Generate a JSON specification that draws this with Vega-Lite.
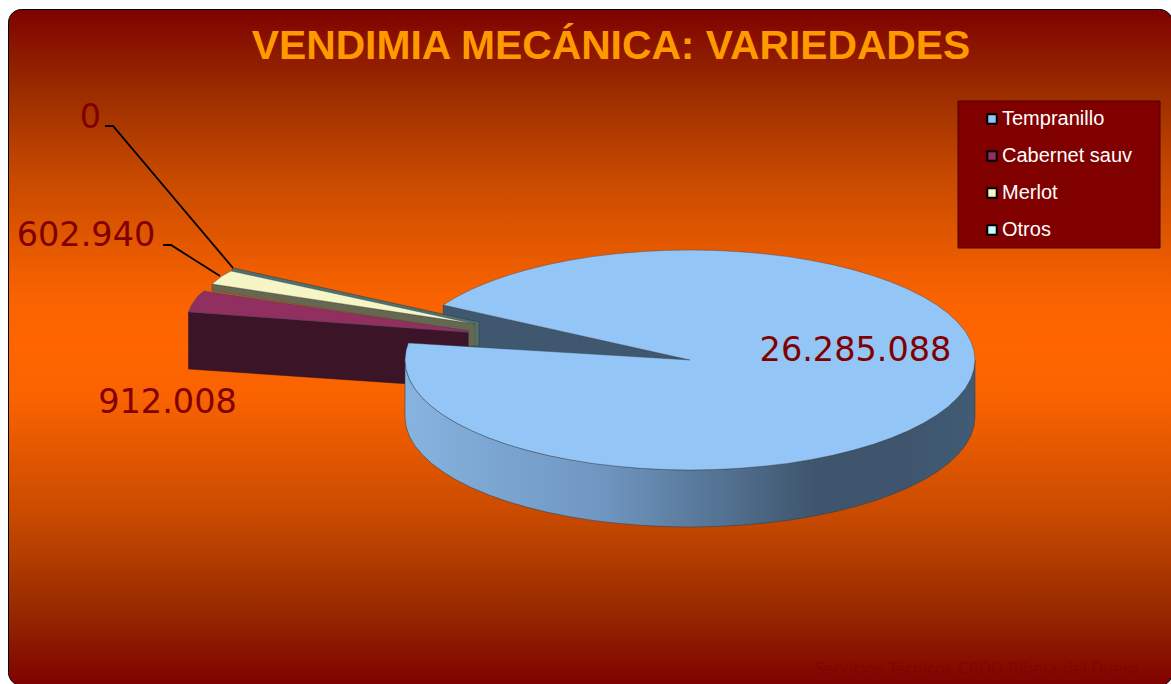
{
"$schema":"https://vega.github.io/schema/vega-lite/v6.json",
"width":1164,"height":676,
"padding":{"left":8,"top":9,"right":-1,"bottom":-1},
"autosize":{"type":"none"},
"background":"white",
"title":{"text":"VENDIMIA MECÁNICA: VARIEDADES","font":"Liberation Sans","fontWeight":"bold","fontSize":40.8,"color":"#FF9900","anchor":"middle","dx":21,"offset":-59},
"view":{"cornerRadius":13,"stroke":"#000000","strokeWidth":1,"fill":{"gradient":"linear","x1":0,"y1":0,"x2":0,"y2":1,"stops":[{"offset":0,"color":"#7E0200"},{"offset":0.12,"color":"#9A2C00"},{"offset":0.25,"color":"#C84A00"},{"offset":0.42,"color":"#F86200"},{"offset":0.5,"color":"#FF6600"},{"offset":0.58,"color":"#F86200"},{"offset":0.75,"color":"#C84A00"},{"offset":0.88,"color":"#9A2C00"},{"offset":1,"color":"#7E0200"}]}},
"datasets":{
"faces":[
{"face":"wall","i":1,"x":443.2,"y":305},{"face":"wall","i":2,"x":690,"y":360},{"face":"wall","i":3,"x":690,"y":417},{"face":"wall","i":4,"x":443.2,"y":362},{"face":"wall","i":5,"x":443.2,"y":305},
{"face":"cabernet","i":1,"x":188.5,"y":312},{"face":"cabernet","i":2,"x":469,"y":332},{"face":"cabernet","i":3,"x":469,"y":388},{"face":"cabernet","i":4,"x":188.5,"y":369},{"face":"cabernet","i":5,"x":188.5,"y":312},
{"face":"otros","i":1,"x":233,"y":268},{"face":"otros","i":2,"x":479,"y":322},{"face":"otros","i":3,"x":479,"y":346},{"face":"otros","i":4,"x":470,"y":346},{"face":"otros","i":5,"x":470,"y":330},{"face":"otros","i":6,"x":231,"y":272},{"face":"otros","i":7,"x":233,"y":268},
{"face":"merlot","i":1,"x":212,"y":284},{"face":"merlot","i":2,"x":475,"y":324},{"face":"merlot","i":3,"x":475,"y":346},{"face":"merlot","i":4,"x":468.5,"y":346},{"face":"merlot","i":5,"x":468.5,"y":331},{"face":"merlot","i":6,"x":212,"y":291},{"face":"merlot","i":7,"x":212,"y":284}
],
"sideEdge":[
{"x":405,"y":360,"y2":417},{"x":406.1,"y":369.6,"y2":426.6},{"x":409.3,"y":379.1,"y2":436.1},{"x":414.7,"y":388.5,"y2":445.5},{"x":422.2,"y":397.6,"y2":454.6},{"x":431.7,"y":406.5,"y2":463.5},{"x":443.2,"y":415,"y2":472},{"x":456.5,"y":423.1,"y2":480.1},{"x":471.7,"y":430.7,"y2":487.7},{"x":488.5,"y":437.8,"y2":494.8},{"x":506.8,"y":444.3,"y2":501.3},{"x":526.5,"y":450.1,"y2":507.1},{"x":547.5,"y":455.3,"y2":512.3},{"x":569.6,"y":459.7,"y2":516.7},{"x":592.5,"y":463.4,"y2":520.4},{"x":616.2,"y":466.2,"y2":523.2},{"x":640.5,"y":468.3,"y2":525.3},{"x":665.2,"y":469.6,"y2":526.6},{"x":690,"y":470,"y2":527},{"x":714.8,"y":469.6,"y2":526.6},{"x":739.5,"y":468.3,"y2":525.3},{"x":763.8,"y":466.2,"y2":523.2},{"x":787.5,"y":463.4,"y2":520.4},{"x":810.4,"y":459.7,"y2":516.7},{"x":832.5,"y":455.3,"y2":512.3},{"x":853.5,"y":450.1,"y2":507.1},{"x":873.2,"y":444.3,"y2":501.3},{"x":891.5,"y":437.8,"y2":494.8},{"x":908.3,"y":430.7,"y2":487.7},{"x":923.5,"y":423.1,"y2":480.1},{"x":936.8,"y":415,"y2":472},{"x":948.3,"y":406.5,"y2":463.5},{"x":957.8,"y":397.6,"y2":454.6},{"x":965.3,"y":388.5,"y2":445.5},{"x":970.7,"y":379.1,"y2":436.1},{"x":973.9,"y":369.6,"y2":426.6},{"x":975,"y":360,"y2":417}
],
"tops":[
{"series":"Cabernet sauv","i":1,"x":188.5,"y":312},{"series":"Cabernet sauv","i":2,"x":191,"y":306},{"series":"Cabernet sauv","i":3,"x":195,"y":300},{"series":"Cabernet sauv","i":4,"x":199,"y":295},{"series":"Cabernet sauv","i":5,"x":204,"y":291},{"series":"Cabernet sauv","i":6,"x":469,"y":331},{"series":"Cabernet sauv","i":7,"x":469,"y":332.5},{"series":"Cabernet sauv","i":8,"x":188.5,"y":312},
{"series":"Merlot","i":1,"x":212,"y":284},{"series":"Merlot","i":2,"x":222,"y":276},{"series":"Merlot","i":3,"x":231,"y":271},{"series":"Merlot","i":4,"x":475,"y":324},{"series":"Merlot","i":5,"x":212,"y":284},
{"series":"Tempranillo","i":1,"x":690,"y":360},{"series":"Tempranillo","i":2,"x":443.2,"y":305},{"series":"Tempranillo","i":3,"x":456.5,"y":296.9},{"series":"Tempranillo","i":4,"x":471.7,"y":289.3},{"series":"Tempranillo","i":5,"x":488.5,"y":282.2},{"series":"Tempranillo","i":6,"x":506.8,"y":275.7},{"series":"Tempranillo","i":7,"x":526.5,"y":269.9},{"series":"Tempranillo","i":8,"x":547.5,"y":264.7},{"series":"Tempranillo","i":9,"x":569.6,"y":260.3},{"series":"Tempranillo","i":10,"x":592.5,"y":256.6},{"series":"Tempranillo","i":11,"x":616.2,"y":253.8},{"series":"Tempranillo","i":12,"x":640.5,"y":251.7},{"series":"Tempranillo","i":13,"x":665.2,"y":250.4},{"series":"Tempranillo","i":14,"x":690,"y":250},{"series":"Tempranillo","i":15,"x":714.8,"y":250.4},{"series":"Tempranillo","i":16,"x":739.5,"y":251.7},{"series":"Tempranillo","i":17,"x":763.8,"y":253.8},{"series":"Tempranillo","i":18,"x":787.5,"y":256.6},{"series":"Tempranillo","i":19,"x":810.4,"y":260.3},{"series":"Tempranillo","i":20,"x":832.5,"y":264.7},{"series":"Tempranillo","i":21,"x":853.5,"y":269.9},{"series":"Tempranillo","i":22,"x":873.2,"y":275.7},{"series":"Tempranillo","i":23,"x":891.5,"y":282.2},{"series":"Tempranillo","i":24,"x":908.3,"y":289.3},{"series":"Tempranillo","i":25,"x":923.5,"y":296.9},{"series":"Tempranillo","i":26,"x":936.8,"y":305},{"series":"Tempranillo","i":27,"x":948.3,"y":313.5},{"series":"Tempranillo","i":28,"x":957.8,"y":322.4},{"series":"Tempranillo","i":29,"x":965.3,"y":331.5},{"series":"Tempranillo","i":30,"x":970.7,"y":340.9},{"series":"Tempranillo","i":31,"x":973.9,"y":350.4},{"series":"Tempranillo","i":32,"x":975,"y":360},{"series":"Tempranillo","i":33,"x":973.9,"y":369.6},{"series":"Tempranillo","i":34,"x":970.7,"y":379.1},{"series":"Tempranillo","i":35,"x":965.3,"y":388.5},{"series":"Tempranillo","i":36,"x":957.8,"y":397.6},{"series":"Tempranillo","i":37,"x":948.3,"y":406.5},{"series":"Tempranillo","i":38,"x":936.8,"y":415},{"series":"Tempranillo","i":39,"x":923.5,"y":423.1},{"series":"Tempranillo","i":40,"x":908.3,"y":430.7},{"series":"Tempranillo","i":41,"x":891.5,"y":437.8},{"series":"Tempranillo","i":42,"x":873.2,"y":444.3},{"series":"Tempranillo","i":43,"x":853.5,"y":450.1},{"series":"Tempranillo","i":44,"x":832.5,"y":455.3},{"series":"Tempranillo","i":45,"x":810.4,"y":459.7},{"series":"Tempranillo","i":46,"x":787.5,"y":463.4},{"series":"Tempranillo","i":47,"x":763.8,"y":466.2},{"series":"Tempranillo","i":48,"x":739.5,"y":468.3},{"series":"Tempranillo","i":49,"x":714.8,"y":469.6},{"series":"Tempranillo","i":50,"x":690,"y":470},{"series":"Tempranillo","i":51,"x":665.2,"y":469.6},{"series":"Tempranillo","i":52,"x":640.5,"y":468.3},{"series":"Tempranillo","i":53,"x":616.2,"y":466.2},{"series":"Tempranillo","i":54,"x":592.5,"y":463.4},{"series":"Tempranillo","i":55,"x":569.6,"y":459.7},{"series":"Tempranillo","i":56,"x":547.5,"y":455.3},{"series":"Tempranillo","i":57,"x":526.5,"y":450.1},{"series":"Tempranillo","i":58,"x":506.8,"y":444.3},{"series":"Tempranillo","i":59,"x":488.5,"y":437.8},{"series":"Tempranillo","i":60,"x":471.7,"y":430.7},{"series":"Tempranillo","i":61,"x":456.5,"y":423.1},{"series":"Tempranillo","i":62,"x":443.2,"y":415},{"series":"Tempranillo","i":63,"x":431.7,"y":406.5},{"series":"Tempranillo","i":64,"x":422.2,"y":397.6},{"series":"Tempranillo","i":65,"x":414.7,"y":388.5},{"series":"Tempranillo","i":66,"x":409.3,"y":379.1},{"series":"Tempranillo","i":67,"x":406.1,"y":369.6},{"series":"Tempranillo","i":68,"x":405,"y":360},{"series":"Tempranillo","i":69,"x":406.1,"y":350.4},{"series":"Tempranillo","i":70,"x":408.4,"y":343},{"series":"Tempranillo","i":71,"x":690,"y":360}
],
"leaders":[
{"s":"Otros","i":1,"x":105,"y":126},{"s":"Otros","i":2,"x":113,"y":126},{"s":"Otros","i":3,"x":233,"y":268},
{"s":"Merlot","i":1,"x":163,"y":245},{"s":"Merlot","i":2,"x":171,"y":245},{"s":"Merlot","i":3,"x":220,"y":276}
],
"labels":[
{"series":"Tempranillo","label":"26.285.088","x":855.5,"y":350.5},
{"series":"Cabernet sauv","label":"912.008","x":167.5,"y":403},
{"series":"Merlot","label":"602.940","x":86,"y":236},
{"series":"Otros","label":"0","x":90.5,"y":118}
]
},
"encoding":{
"x":{"field":"x","type":"quantitative","scale":{"domain":[8,1172],"nice":false,"zero":false},"axis":null},
"y":{"field":"y","type":"quantitative","scale":{"domain":[685,9],"nice":false,"zero":false},"axis":null}
},
"layer":[
{"data":{"name":"faces"},"transform":[{"filter":"datum.face==='wall'"}],"mark":{"type":"line","filled":true,"fill":"#3F5870","stroke":"#2a3a4a","strokeWidth":0.5},"encoding":{"order":{"field":"i","type":"quantitative"}}},
{"data":{"name":"faces"},"transform":[{"filter":"datum.face==='cabernet'"}],"mark":{"type":"line","filled":true,"fill":"#3C1428","stroke":"#2a1020","strokeWidth":0.5},"encoding":{"order":{"field":"i","type":"quantitative"}}},
{"data":{"name":"faces"},"transform":[{"filter":"datum.face==='otros'"}],"mark":{"type":"line","filled":true,"fill":"#50706E","stroke":"#2a3a3a","strokeWidth":0.5},"encoding":{"order":{"field":"i","type":"quantitative"}}},
{"data":{"name":"faces"},"transform":[{"filter":"datum.face==='merlot'"}],"mark":{"type":"line","filled":true,"fill":"#666750","stroke":"#44442e","strokeWidth":0.4},"encoding":{"order":{"field":"i","type":"quantitative"}}},
{"data":{"name":"sideEdge"},"mark":{"type":"area","stroke":"#2a3a4a","strokeWidth":0.5,"line":false,"color":{"gradient":"linear","x1":0,"y1":0,"x2":1,"y2":0,"stops":[{"offset":0,"color":"#86B3E0"},{"offset":0.35,"color":"#6F96C0"},{"offset":0.72,"color":"#3E556D"},{"offset":0.88,"color":"#3E556D"},{"offset":1,"color":"#425C76"}]}},"encoding":{"y2":{"field":"y2"}}},
{"data":{"name":"tops"},"mark":{"type":"line","filled":true,"stroke":"#33465a","strokeWidth":0.4},"encoding":{"order":{"field":"i","type":"quantitative"},"color":{"field":"series","type":"nominal","scale":{"domain":["Tempranillo","Cabernet sauv","Merlot","Otros"],"range":["#93C5F6","#912F60","#F5F5C5","#C8FBFB"]},"legend":{"orient":"none","legendX":974,"legendY":100,"title":null,"padding":0,"symbolType":"square","symbolSize":90,"symbolStrokeColor":"#000000","symbolStrokeWidth":2,"symbolOpacity":1,"labelFont":"Liberation Sans","labelFontSize":20,"labelColor":"#FFFFFF","labelOffset":0,"rowPadding":17,"labelLimit":200}}}},
{"data":{"name":"leaders"},"mark":{"type":"line","color":"#000000","strokeWidth":1.8},"encoding":{"detail":{"field":"s"},"order":{"field":"i","type":"quantitative"}}},
{"data":{"name":"labels"},"mark":{"type":"text","font":"DejaVu Sans","fontSize":33.5,"color":"#800000","align":"center","baseline":"middle"},"encoding":{"text":{"field":"label"}}},
{"data":{"values":[{"x":958,"x2":1160,"y":101,"y2":248}]},"mark":{"type":"rect","fill":"#800000","stroke":"#4d0000","strokeWidth":1},"encoding":{"x2":{"field":"x2"},"y2":{"field":"y2"}}},
{"data":{"values":[{"note":"Servicios Técnicos CRDO Ribera del Duero","x":976,"y":669}]},"mark":{"type":"text","font":"DejaVu Sans","fontSize":15.4,"color":"#7E0500","align":"center","baseline":"middle"},"encoding":{"text":{"field":"note"}}}
]
}
